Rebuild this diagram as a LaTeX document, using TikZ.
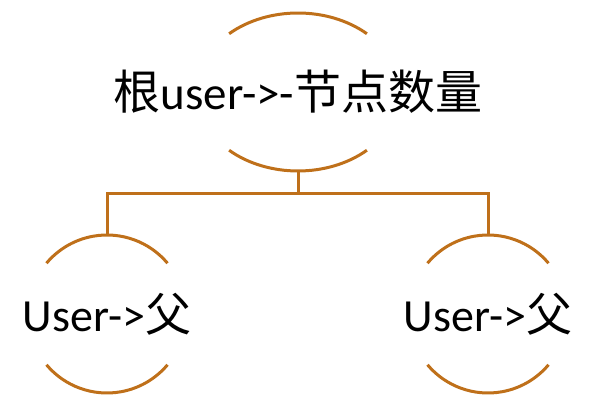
\documentclass[tikz,border=0pt]{standalone}
\usepackage{fontspec}
\setmainfont{Carlito}
\newfontfamily\cjk{Noto Sans CJK SC}
\usetikzlibrary{shapes.geometric}
\definecolor{arcbrown}{RGB}{191,112,26}
\tikzset{
  hnode/.style={ellipse, draw=none, inner sep=0pt, text=black},
  arcline/.style={draw=arcbrown, line width=3pt},
  conn/.style={draw=arcbrown, line width=3pt},
}
\begin{document}
\begin{tikzpicture}[x=1pt,y=1pt]
\useasboundingbox (0,0) rectangle (597,396);
\node[hnode, minimum width=204pt, minimum height=158pt, font=\fontsize{47}{50}\selectfont] (top) at (298,304) {{\cjk 根}user->-{\cjk 节点数量}};
\node[hnode, minimum width=158pt, minimum height=158pt, font=\fontsize{46}{50}\selectfont] (l) at (107,82) {User->{\cjk 父}};
\node[hnode, minimum width=158pt, minimum height=158pt, font=\fontsize{46}{50}\selectfont] (r) at (488,82) {User->{\cjk 父}};
% arcs of top node
\draw[arcline] ([shift={(47.5:102 and 79)}]top.center) arc[start angle=47.5, end angle=132.5, x radius=102, y radius=79];
\draw[arcline] ([shift={(227.5:102 and 79)}]top.center) arc[start angle=227.5, end angle=312.5, x radius=102, y radius=79];
% arcs of children
\foreach \n in {l,r}{
  \draw[arcline] ([shift={(40:79)}]\n.center) arc[start angle=40, end angle=140, radius=79];
  \draw[arcline] ([shift={(220:79)}]\n.center) arc[start angle=220, end angle=320, radius=79];
}
% connectors
\draw[conn] (top.south) -- ++(0,-22) coordinate (j);
\draw[conn] (j) -| (l.north);
\draw[conn] (j) -| (r.north);
\end{tikzpicture}
\end{document}
